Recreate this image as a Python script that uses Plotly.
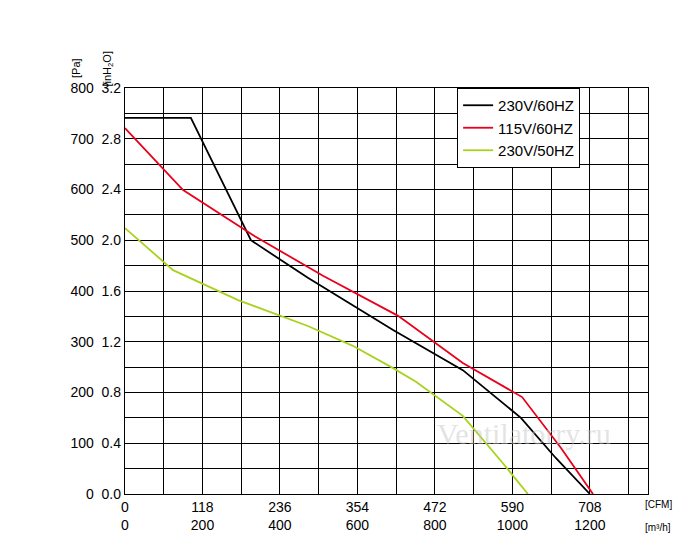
import plotly.graph_objs as go

# airflow m3/h, pressure Pa
curves = {
    '230V/60HZ': dict(color='black',
        x=[0, 170, 325, 472, 692, 872, 1022, 1112, 1200],
        y=[741, 741, 500, 426, 323, 244, 150, 71, 0]),
    '115V/60HZ': dict(color='#e8001c',
        x=[0, 150, 335, 511, 705, 872, 1025, 1125, 1208],
        y=[721, 599, 508, 430, 351, 258, 191, 91, 0]),
    '230V/50HZ': dict(color='#a8d21e',
        x=[0, 124, 292, 472, 588, 692, 751, 872, 975, 1040],
        y=[524, 441, 382, 331, 292, 248, 221, 154, 61, 0]),
}

data = []
for name, c in curves.items():
    data.append(go.Scatter(x=c['x'], y=c['y'], mode='lines', name=name,
                           line=dict(color=c['color'], width=1.8)))

xt = [0, 200, 400, 600, 800, 1000, 1200]
cfm = [0, 118, 236, 354, 472, 590, 708]
yt = list(range(0, 801, 100))

layout = dict(
    width=700, height=556,
    paper_bgcolor='white', plot_bgcolor='white',
    font=dict(family='Liberation Sans, Arial', size=14, color='black'),
    margin=dict(l=117, r=60, t=80, b=70),
    xaxis=dict(range=[0, 1350], tickvals=xt, automargin=False,
               ticktext=['%d<br>%d' % (c, m) for c, m in zip(cfm, xt)],
               showgrid=True, gridcolor='black', gridwidth=1.2,
               minor=dict(dtick=100, showgrid=True, gridcolor='black', gridwidth=1.2),
               zeroline=False, showline=True, linecolor='black', linewidth=1.3, mirror=True),
    yaxis=dict(range=[0, 800], tickvals=yt, automargin=False,
               ticktext=['%d  %.1f' % (v, v / 250) for v in yt],
               showgrid=True, gridcolor='black', gridwidth=1.2,
               minor=dict(dtick=50, showgrid=True, gridcolor='black', gridwidth=1.2),
               zeroline=False, showline=True, linecolor='black', linewidth=1.3, mirror=True),
    legend=dict(x=0.635, y=1.0, xanchor='left', yanchor='top', bgcolor='white',
                bordercolor='black', borderwidth=1, font=dict(size=15),
                tracegroupgap=0),
    annotations=[
        dict(text='[CFM]', x=1.0, y=-0.045, xref='paper', yref='paper', xanchor='left',
             showarrow=False, font=dict(size=10), xshift=-5),
        dict(text='[m³/h]', x=1.0, y=-0.1, xref='paper', yref='paper', xanchor='left',
             showarrow=False, font=dict(size=10), xshift=-5),
        dict(text='[Pa]', x=60, y=48, xref='paper', yref='paper', showarrow=False,
             textangle=-90, font=dict(size=11)),
        dict(text='[inH<sub>2</sub>O]', x=90, y=42, xref='paper', yref='paper', showarrow=False,
             textangle=-90, font=dict(size=11)),
        dict(text='Ventilatorry.ru', x=1030, y=120, showarrow=False,
             font=dict(size=30, family='Liberation Serif', color='rgba(200,200,200,0.5)')),
    ],
)
# position Pa/inH2O labels in pixels via paper coords
plot_w = 700 - 117 - 60
plot_h = 556 - 80 - 70
for a in layout['annotations'][2:4]:
    a['x'] = (a['x'] - 117) / plot_w
    a['y'] = (556 - 70 - a['y']) / plot_h

fig = go.Figure(data=data, layout=layout)
fig.write_html("out.html")
